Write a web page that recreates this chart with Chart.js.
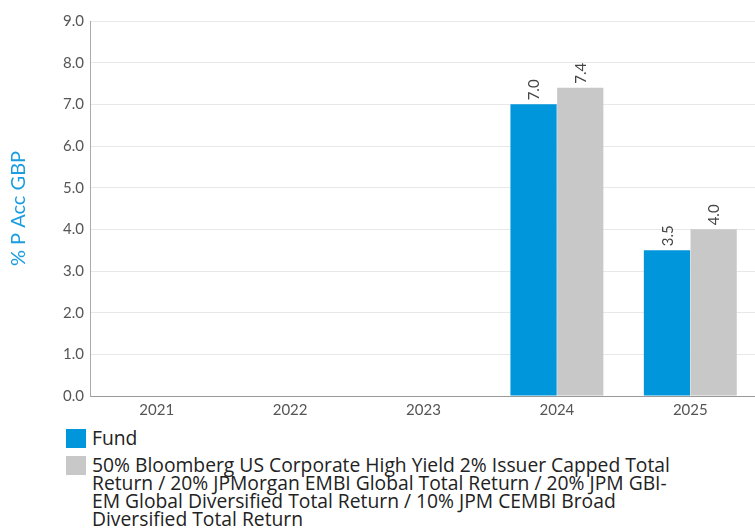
<!DOCTYPE html>
<html>
<head>
<meta charset="utf-8">
<script src="https://cdn.jsdelivr.net/npm/chart.js@4.4.1/dist/chart.umd.min.js"></script>
<style>
  body { margin: 0; background: #fff; font-family: Lato, "Open Sans", sans-serif; }
  #wrap { position: relative; width: 757px; height: 424px; }
  #legend { margin: 5px 0 0 66px; width: 628px; font-family: "Open Sans"; font-size: 19.3px; line-height: 18px; color: #222; }
  .item { display: flex; align-items: flex-start; margin-bottom: 8px; }
  .box { flex: 0 0 20px; height: 19px; margin-right: 6px; }
</style>
</head>
<body>
<div id="wrap"><canvas id="myChart"></canvas></div>
<div id="legend"></div>
<script>
const years = ['2021', '2022', '2023', '2024', '2025'];
const fundValues = [null, null, null, 7.0, 3.5];
const benchValues = [null, null, null, 7.4, 4.0];
const seriesNames = [
  'Fund',
  '50% Bloomberg US Corporate High Yield 2% Issuer Capped Total Return / 20% JPMorgan EMBI Global Total Return / 20% JPM GBI-EM Global Diversified Total Return / 10% JPM CEMBI Broad Diversified Total Return'
];
const colors = ['#0096db', '#c8c8c8'];

// labels drawn vertically above each bar
const barLabels = {
  id: 'barLabels',
  afterDatasetsDraw(chart) {
    const ctx = chart.ctx;
    ctx.save();
    ctx.font = '15px Lato';
    ctx.fillStyle = '#444';
    ctx.textAlign = 'left';
    ctx.textBaseline = 'middle';
    chart.data.datasets.forEach((ds, i) => {
      chart.getDatasetMeta(i).data.forEach((bar, j) => {
        const v = ds.data[j];
        if (v === null) return;
        ctx.save();
        ctx.translate(bar.x + 1, bar.y - 4);
        ctx.rotate(-Math.PI / 2);
        ctx.fillText(v.toFixed(1), 0, 0);
        ctx.restore();
      });
    });
    ctx.restore();
  }
};

const ctx = document.getElementById('myChart').getContext('2d');

new Chart(ctx, {
  type: 'bar',
  data: {
    labels: years,
    datasets: [
      { label: seriesNames[0], data: fundValues, backgroundColor: colors[0] },
      { label: seriesNames[1], data: benchValues, backgroundColor: colors[1] }
    ]
  },
  options: {
    responsive: true,
    maintainAspectRatio: false,
    animation: false,
    categoryPercentage: 0.7,
    barPercentage: 0.99,
    layout: { padding: { top: 21, right: 0, left: 0, bottom: 0 } },
    scales: {
      x: {
        grid: { display: false, drawTicks: false },
        border: { color: '#999' },
        ticks: { color: '#555', font: { family: 'Lato', size: 15 }, padding: 5 }
      },
      y: {
        min: 0,
        max: 9,
        afterFit(axis) { axis.width = 90; },
        grid: { color: '#e8e8e8', drawTicks: false },
        border: { color: '#aaa' },
        ticks: {
          stepSize: 1,
          color: '#555',
          padding: 6,
          font: { family: 'Lato', size: 15 },
          callback: v => v.toFixed(1)
        },
        title: {
          display: true,
          text: '% P Acc GBP',
          color: '#1a9ee0',
          font: { family: 'Lato', size: 20 },
          padding: { top: 7, bottom: 0 }
        }
      }
    },
    plugins: {
      legend: { display: false },
      tooltip: { enabled: false }
    }
  },
  plugins: [barLabels]
});

// legend below the chart
const legend = document.getElementById('legend');
seriesNames.forEach((name, i) => {
  const item = document.createElement('div');
  item.className = 'item';
  const box = document.createElement('span');
  box.className = 'box';
  box.style.background = colors[i];
  const txt = document.createElement('span');
  txt.textContent = name;
  item.appendChild(box);
  item.appendChild(txt);
  legend.appendChild(item);
});
</script>
</body>
</html>
